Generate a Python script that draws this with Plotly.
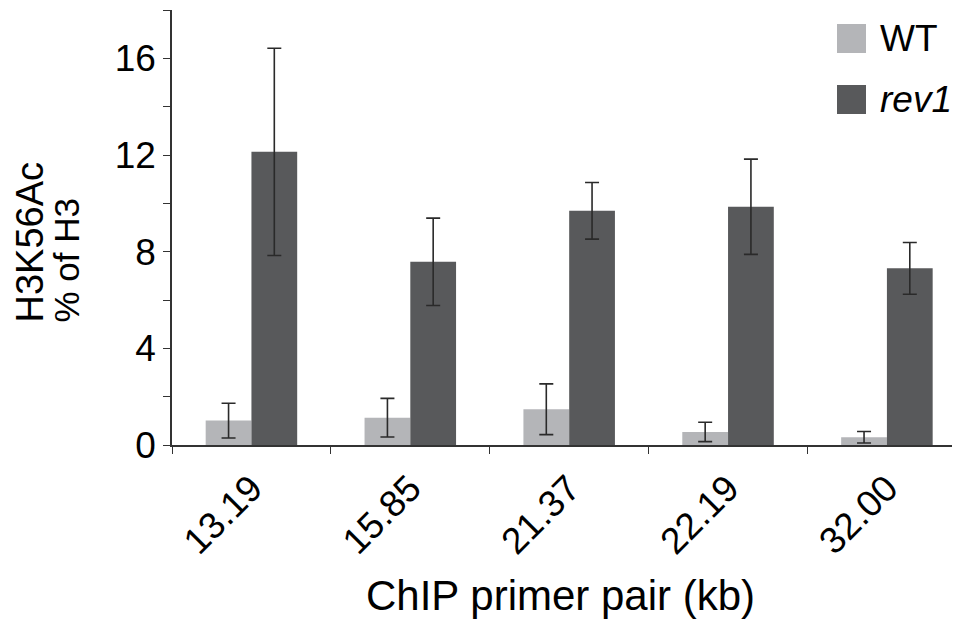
import plotly.graph_objects as go

# ---- data ----
categories = ["13.19", "15.85", "21.37", "22.19", "32.00"]
wt_values = [1.01, 1.13, 1.48, 0.54, 0.32]
wt_errors = [0.72, 0.80, 1.05, 0.40, 0.24]
rev1_values = [12.13, 7.58, 9.69, 9.86, 7.31]
rev1_errors = [4.29, 1.81, 1.17, 1.97, 1.07]
series_names = ["WT", "<i>rev1</i>"]
y_tick_values = [0, 2, 4, 6, 8, 10, 12, 14, 16, 18]
y_tick_labels = ["0", "", "4", "", "8", "", "12", "", "16", ""]
x_title = "ChIP primer pair (kb)"
y_title_lines = ["H3K56Ac", "% of H3"]

# ---- style ----
OFF = 8  # default page body margin
W, H = 960 - OFF, 624 - OFF
ML, MR, MT, MB = 172 - OFF, 0, 10 - OFF, 624 - 445
PW, PH = W - ML - MR, H - MT - MB
FONT = "Liberation Sans, Arial, sans-serif"
WT_COLOR = "#b4b5b8"
REV_COLOR = "#58595b"
ERR_COLOR = "#2a2a2a"
AX_COLOR = "#333333"


def px_x(x):
    """page pixel x -> paper coordinate"""
    return (x - OFF - ML) / PW


def px_y(y):
    """page pixel y -> paper coordinate"""
    return (H - MB - (y - OFF)) / PH


fig = go.Figure()
fig.add_trace(go.Bar(
    x=categories, y=wt_values, name="WT", marker_color=WT_COLOR,
    marker_line_width=0,
    error_y=dict(type="data", array=wt_errors, color=ERR_COLOR,
                 thickness=1.6, width=7),
    showlegend=False,
))
fig.add_trace(go.Bar(
    x=categories, y=rev1_values, name="rev1", marker_color=REV_COLOR,
    marker_line_width=0,
    error_y=dict(type="data", array=rev1_errors, color=ERR_COLOR,
                 thickness=1.6, width=7),
    showlegend=False,
))

fig.update_layout(
    width=W, height=H,
    margin=dict(l=ML, r=MR, t=MT, b=MB, pad=0),
    paper_bgcolor="white", plot_bgcolor="white",
    barmode="group", bargap=0.424, bargroupgap=0,
    font=dict(family=FONT, color="black", size=36),
    showlegend=False,
)
fig.update_xaxes(
    type="category", range=[-0.5, 4.46],
    showline=True, linecolor=AX_COLOR, linewidth=1.5,
    ticks="outside", tickson="boundaries", ticklen=7, tickwidth=1.2,
    tickcolor=AX_COLOR, tickangle=-45, ticklabelstandoff=5,
    tickfont=dict(size=37, family=FONT, color="black"),
    showgrid=False, zeroline=False,
)
fig.update_yaxes(
    range=[0, 18], tickmode="array", tickvals=y_tick_values,
    ticktext=y_tick_labels,
    showline=True, linecolor=AX_COLOR, linewidth=1.5,
    ticks="outside", ticklen=7, tickwidth=1.2, tickcolor=AX_COLOR,
    tickfont=dict(size=37, family=FONT, color="black"),
    showgrid=False, zeroline=False,
)

# y-axis title (two lines, rotated)
for cx, txt, fs in zip([29, 66], y_title_lines, [38, 35]):
    fig.add_annotation(
        x=px_x(cx), y=px_y(325), xref="paper", yref="paper",
        text=txt, textangle=-90, showarrow=False,
        xanchor="center", yanchor="bottom",
        font=dict(size=fs, family=FONT, color="black"),
    )

# x-axis title
fig.add_annotation(
    x=px_x(560), y=px_y(595), xref="paper", yref="paper",
    text=x_title, showarrow=False, xanchor="center", yanchor="middle",
    font=dict(size=42, family=FONT, color="black"),
)

# legend (drawn manually for large swatches)
for (y0, y1, ty), name, col in zip([(24, 53, 38), (85, 114, 99)],
                                   series_names, [WT_COLOR, REV_COLOR]):
    fig.add_shape(type="rect", xref="paper", yref="paper",
                  x0=px_x(837), x1=px_x(866), y0=px_y(y1), y1=px_y(y0),
                  fillcolor=col, line_width=0)
    fig.add_annotation(
        x=px_x(878), y=px_y(ty), xref="paper", yref="paper",
        text=name, showarrow=False, xanchor="left", yanchor="middle",
        font=dict(size=37, family=FONT, color="black"),
    )

fig.write_html("out.html")
